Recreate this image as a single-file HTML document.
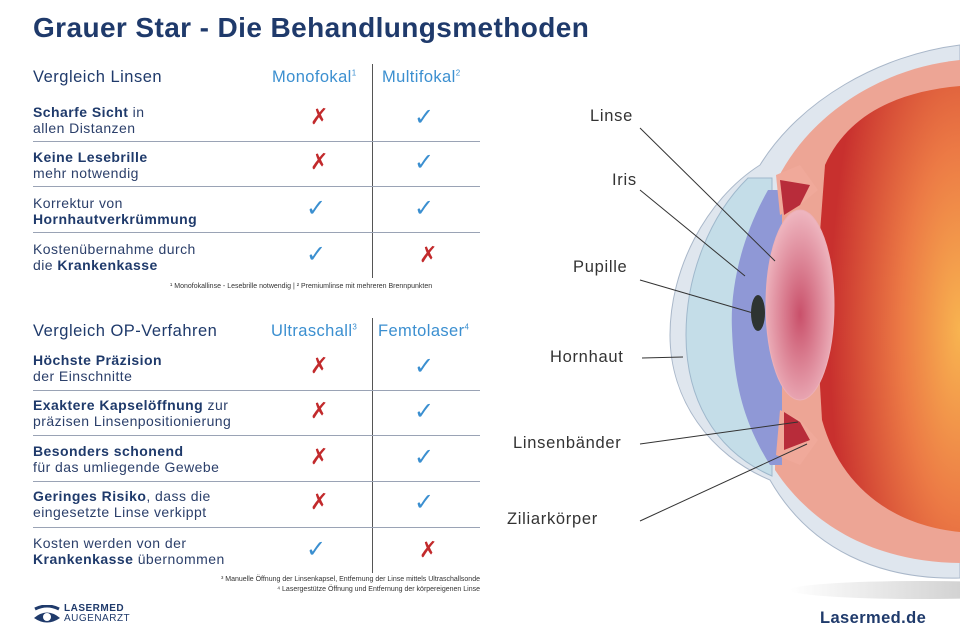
<!DOCTYPE html>
<html><head><meta charset="utf-8"><style>
body{margin:0;width:960px;height:640px;background:#fff;position:relative;overflow:hidden;font-family:"Liberation Sans",sans-serif;color:#1f3a6b}
.a{position:absolute;white-space:nowrap}
.t{font-size:14px;line-height:16px;color:#2b3f6a;letter-spacing:0.45px}
.t b{color:#1f3a6b}
.h{font-size:16.5px;color:#1f3a6b;letter-spacing:0.5px}
.c{font-size:16.5px;color:#3b8fd0;letter-spacing:0.4px}
.sep{position:absolute;left:33px;width:447px;height:1px;background:#9aa3b5}
.v{position:absolute;left:372px;width:1px;background:#555}
.x{position:absolute;font-size:22px;color:#c22a2c;font-family:"DejaVu Sans",sans-serif}
.k{position:absolute;font-size:24px;color:#3b8fd0;font-family:"DejaVu Sans",sans-serif}
.lb{position:absolute;font-size:16.5px;color:#333;letter-spacing:0.7px}
</style></head><body>
<svg class="a" style="left:0;top:0" width="960" height="640">
<defs>
<radialGradient id="rd" cx="1" cy="0.55" r="0.9"><stop offset="0" stop-color="#f8b450"/><stop offset="0.45" stop-color="#ec7a45"/><stop offset="1" stop-color="#c8302e"/></radialGradient>
<radialGradient id="ln" cx="0.5" cy="0.55" r="0.6"><stop offset="0" stop-color="#c9506a"/><stop offset="1" stop-color="#f2c0c8"/></radialGradient>
<linearGradient id="sh" x1="0" x2="1"><stop offset="0" stop-color="#fff"/><stop offset="1" stop-color="#bbb"/></linearGradient>
</defs>
<ellipse cx="920" cy="590" rx="130" ry="9" fill="url(#sh)"/>
<path d="M960 45 C880 55 800 100 760 165 C705 200 670 270 670 335 C670 400 710 455 770 480 C810 550 880 580 960 578Z" fill="#dfe6ee" stroke="#a9b7c9"/>
<path d="M960 60 C880 68 810 115 778 178 L775 470 C815 530 880 562 960 563Z" fill="#eda595"/>
<path d="M960 86 C890 92 845 120 825 165 L815 300 L822 420 C840 485 890 525 960 532Z" fill="url(#rd)"/>
<path d="M748 178 C710 215 686 275 686 335 C686 395 712 450 772 476 L772 178Z" fill="#c4dde8" stroke="#9fb8cc"/>
<path d="M768 190 C740 240 730 290 732 330 C734 380 742 420 770 465 L782 465 L782 190Z" fill="#8f98d6"/>
<path d="M776 175 L800 165 L818 190 L800 205 L780 215Z" fill="#f0a99a"/>
<path d="M780 180 L810 185 L800 205 L784 215Z" fill="#b82c3a"/>
<path d="M776 455 L800 465 L818 440 L800 420 L780 410Z" fill="#f0a99a"/>
<path d="M784 412 L800 422 L810 440 L784 450Z" fill="#b82c3a"/>
<ellipse cx="758" cy="313" rx="7" ry="18" fill="#2e3432"/>
<ellipse cx="800" cy="305" rx="34" ry="95" fill="url(#ln)" stroke="#ecb0b8"/>
<g stroke="#333" stroke-width="1">
<line x1="640" y1="128" x2="775" y2="261"/>
<line x1="640" y1="190" x2="745" y2="276"/>
<line x1="640" y1="280" x2="753" y2="313"/>
<line x1="642" y1="358" x2="683" y2="357"/>
<line x1="640" y1="444" x2="798" y2="422"/>
<line x1="640" y1="521" x2="807" y2="444"/>
</g>
</svg>
<div class="lb" style="left:590px;top:107px">Linse</div>
<div class="lb" style="left:612px;top:171px">Iris</div>
<div class="lb" style="left:573px;top:258px">Pupille</div>
<div class="lb" style="left:550px;top:348px">Hornhaut</div>
<div class="lb" style="left:513px;top:434px">Linsenbänder</div>
<div class="lb" style="left:507px;top:510px">Ziliarkörper</div>

<div class="a" style="left:33px;top:12px;font-size:28px;font-weight:bold;color:#1f3a6b;letter-spacing:0.4px">Grauer Star - Die Behandlungsmethoden</div>

<div class="a h" style="left:33px;top:68px">Vergleich Linsen</div>
<div class="a c" style="left:272px;top:68px">Monofokal<sup style="font-size:8px">1</sup></div>
<div class="a c" style="left:382px;top:68px">Multifokal<sup style="font-size:8px">2</sup></div>
<div class="v" style="top:64px;height:214px"></div>
<div class="a t" style="left:33px;top:104px"><b>Scharfe Sicht</b> in<br>allen Distanzen</div>
<div class="a t" style="left:33px;top:149px"><b>Keine Lesebrille</b><br>mehr notwendig</div>
<div class="a t" style="left:33px;top:195px">Korrektur von<br><b>Hornhautverkrümmung</b></div>
<div class="a t" style="left:33px;top:241px">Kostenübernahme durch<br>die <b>Krankenkasse</b></div>
<div class="sep" style="top:141px"></div><div class="sep" style="top:186px"></div><div class="sep" style="top:232px"></div>
<div class="x" style="left:310px;top:105px">✗</div><div class="k" style="left:414px;top:103px">✓</div>
<div class="x" style="left:310px;top:150px">✗</div><div class="k" style="left:414px;top:148px">✓</div>
<div class="k" style="left:306px;top:194px">✓</div><div class="k" style="left:414px;top:194px">✓</div>
<div class="k" style="left:306px;top:240px">✓</div><div class="x" style="left:419px;top:243px">✗</div>
<div class="a" style="left:170px;top:283px;font-size:7px;color:#333">¹ Monofokallinse - Lesebrille notwendig | ² Premiumlinse mit mehreren Brennpunkten</div>

<div class="a h" style="left:33px;top:322px">Vergleich OP-Verfahren</div>
<div class="a c" style="left:271px;top:322px">Ultraschall<sup style="font-size:8px">3</sup></div>
<div class="a c" style="left:378px;top:322px">Femtolaser<sup style="font-size:8px">4</sup></div>
<div class="v" style="top:318px;height:255px"></div>
<div class="a t" style="left:33px;top:352px"><b>Höchste Präzision</b><br>der Einschnitte</div>
<div class="a t" style="left:33px;top:397px"><b>Exaktere Kapselöffnung</b> zur<br>präzisen Linsenpositionierung</div>
<div class="a t" style="left:33px;top:443px"><b>Besonders schonend</b><br>für das umliegende Gewebe</div>
<div class="a t" style="left:33px;top:488px"><b>Geringes Risiko</b>, dass die<br>eingesetzte Linse verkippt</div>
<div class="a t" style="left:33px;top:535px">Kosten werden von der<br><b>Krankenkasse</b> übernommen</div>
<div class="sep" style="top:390px"></div><div class="sep" style="top:435px"></div><div class="sep" style="top:481px"></div><div class="sep" style="top:527px"></div>
<div class="x" style="left:310px;top:354px">✗</div><div class="k" style="left:414px;top:352px">✓</div>
<div class="x" style="left:310px;top:399px">✗</div><div class="k" style="left:414px;top:397px">✓</div>
<div class="x" style="left:310px;top:445px">✗</div><div class="k" style="left:414px;top:443px">✓</div>
<div class="x" style="left:310px;top:490px">✗</div><div class="k" style="left:414px;top:488px">✓</div>
<div class="k" style="left:306px;top:535px">✓</div><div class="x" style="left:419px;top:538px">✗</div>
<div class="a" style="left:174px;top:575px;font-size:7px;color:#333;text-align:right;width:306px;line-height:10px">³ Manuelle Öffnung der Linsenkapsel, Entfernung der Linse mittels Ultraschallsonde<br>⁴ Lasergestütze Öffnung und Entfernung der körpereigenen Linse</div>

<svg class="a" style="left:33px;top:605px" width="28" height="20"><path d="M2 4 Q14 -2 26 4" stroke="#1f3a6b" stroke-width="3" fill="none"/><path d="M1 13 Q14 2 27 13 Q14 22 1 13Z" fill="#1f3a6b"/><circle cx="14" cy="12" r="4" fill="#fff"/></svg>
<div class="a" style="left:64px;top:604px;font-size:10px;font-weight:bold;line-height:10px;color:#1f3a6b;letter-spacing:0.5px">LASERMED<br><span style="font-weight:normal">AUGENARZT</span></div>
<div class="a" style="left:820px;top:609px;font-size:16.5px;font-weight:bold;color:#1f3a6b;letter-spacing:0.4px">Lasermed.de</div>
</body></html>
